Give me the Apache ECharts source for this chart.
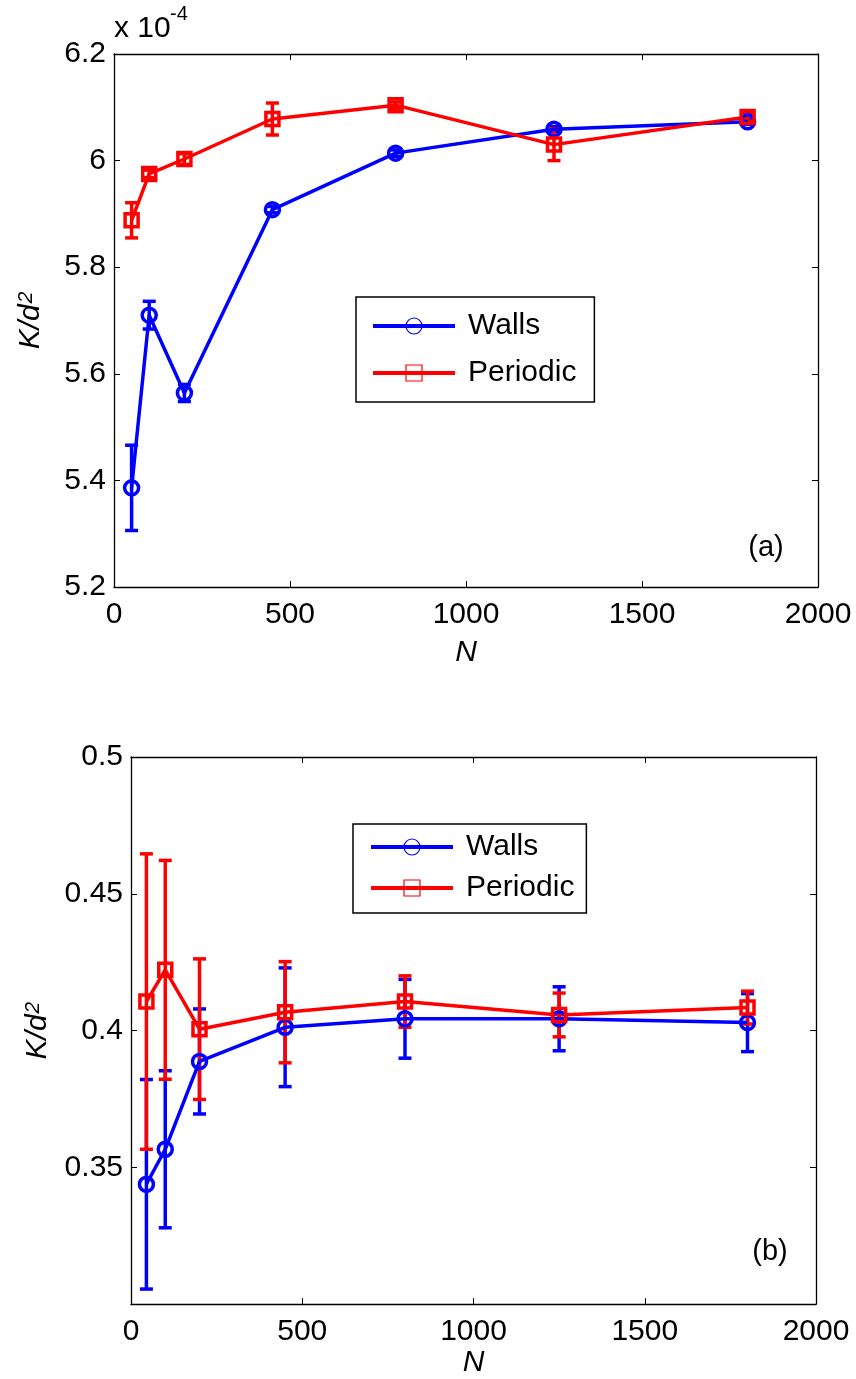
<!DOCTYPE html>
<html>
<head>
<meta charset="utf-8">
<script src="https://cdn.jsdelivr.net/npm/echarts@6/dist/echarts.min.js"></script>
<style>
html,body{margin:0;padding:0;background:#fff;}
#chart{width:856px;height:1379px;}
</style>
</head>
<body>
<div id="chart"></div>
<script>
// ---------- Data ----------
// Panel (a): values in units of 1e-4
const N_a = [50, 100, 200, 450, 800, 1250, 1800];
const walls_a = [5.386, 5.710, 5.564, 5.908, 6.014, 6.059, 6.073];
const walls_a_err = [0.080, 0.026, 0.016, 0.006, 0.006, 0.005, 0.005];
const periodic_a = [5.888, 5.975, 6.003, 6.078, 6.104, 6.030, 6.082];
const periodic_a_err = [0.033, 0.007, 0.010, 0.030, 0.006, 0.030, 0.008];

// Panel (b)
const N_b = [45, 100, 200, 450, 800, 1250, 1800];
const walls_b = [0.3438, 0.3566, 0.3887, 0.4012, 0.4043, 0.4043, 0.4029];
const walls_b_err = [0.0383, 0.0287, 0.0192, 0.0217, 0.0144, 0.0117, 0.0106];
const periodic_b = [0.4106, 0.4222, 0.4005, 0.4067, 0.4106, 0.4057, 0.4084];
const periodic_b_err = [0.054, 0.040, 0.0257, 0.0185, 0.0094, 0.008, 0.006];

const seriesNames = ['Walls', 'Periodic'];
const xTicks = [0, 500, 1000, 1500, 2000];

// ---------- Styling ----------
const FONT = "'Liberation Sans', Arial, Helvetica, sans-serif";
const BLUE = '#0000ff';
const RED = '#ff0000';
const LW = 3.5;

function fmt(v) { return String(parseFloat(v.toFixed(2))); }

function xAxisPair(gridIndex, nameGap) {
  const common = {
    type: 'value', gridIndex: gridIndex, min: xTicks[0], max: xTicks[xTicks.length - 1], interval: 500,
    splitLine: { show: false },
    axisLine: { show: true, onZero: false, lineStyle: { color: '#000', width: 1.3 } },
    axisTick: { show: true, inside: true, length: 6, lineStyle: { color: '#000', width: 1 } }
  };
  return [
    Object.assign({}, common, {
      position: 'bottom',
      axisLabel: { show: true, margin: 13, color: '#000', fontSize: 30, fontFamily: FONT, formatter: v => String(v) },
      name: 'N', nameLocation: 'middle', nameGap: nameGap,
      nameTextStyle: { fontSize: 30, fontFamily: FONT, fontStyle: 'italic', color: '#000', verticalAlign: 'top' }
    }),
    Object.assign({}, common, { position: 'top', axisLabel: { show: false } })
  ];
}

function yAxisPair(gridIndex, min, max, interval, hideMin, nameGap) {
  const common = {
    type: 'value', gridIndex: gridIndex, min: min, max: max, interval: interval,
    splitLine: { show: false },
    axisLine: { show: true, onZero: false, lineStyle: { color: '#000', width: 1.3 } },
    axisTick: { show: true, inside: true, length: 6, lineStyle: { color: '#000', width: 1 } }
  };
  return [
    Object.assign({}, common, {
      position: 'left',
      axisLabel: {
        show: true, margin: 8, color: '#000', fontSize: 30, fontFamily: FONT,
        formatter: v => (hideMin && Math.abs(v - min) < 1e-9) ? '' : fmt(v)
      },
      name: '{i|K/d}{s|2}', nameLocation: 'middle', nameGap: nameGap, nameRotate: 90,
      nameTextStyle: {
        color: '#000',
        rich: {
          i: { fontSize: 30, fontFamily: FONT, fontStyle: 'italic', color: '#000' },
          s: { fontSize: 21, fontFamily: FONT, fontStyle: 'italic', color: '#000', verticalAlign: 'top', padding: [0, 0, 6, 1] }
        }
      }
    }),
    Object.assign({}, common, { position: 'right', axisLabel: { show: false } })
  ];
}

function errSeries(name, xi, yi, xs, ys, errs, color) {
  return {
    name: name + ' error', type: 'custom', xAxisIndex: xi, yAxisIndex: yi,
    data: xs.map((x, i) => [x, ys[i] - errs[i], ys[i] + errs[i]]),
    encode: { x: 0, y: [1, 2] },
    silent: true,
    renderItem: function (params, api) {
      const x = api.value(0);
      const lo = api.coord([x, api.value(1)]);
      const hi = api.coord([x, api.value(2)]);
      const w = 6.5;
      const st = { stroke: color, lineWidth: LW };
      return {
        type: 'group',
        children: [
          { type: 'line', shape: { x1: lo[0], y1: lo[1], x2: hi[0], y2: hi[1] }, style: st },
          { type: 'line', shape: { x1: lo[0] - w, y1: lo[1], x2: lo[0] + w, y2: lo[1] }, style: st },
          { type: 'line', shape: { x1: hi[0] - w, y1: hi[1], x2: hi[0] + w, y2: hi[1] }, style: st }
        ]
      };
    }
  };
}

function lineSeries(name, xi, yi, xs, ys, color, symbol, size) {
  return {
    name: name, type: 'line', xAxisIndex: xi, yAxisIndex: yi,
    data: xs.map((x, i) => [x, ys[i]]),
    symbol: symbol, symbolSize: size, showAllSymbol: true,
    lineStyle: { color: color, width: LW },
    itemStyle: { color: 'rgba(0,0,0,0)', borderColor: color, borderWidth: LW },
    emphasis: { disabled: true }
  };
}

function legendCfg(left, top, padding, gap) {
  return {
    data: seriesNames.map(n => ({ name: n })),
    orient: 'vertical', left: left, top: top,
    backgroundColor: '#fff', borderColor: '#000', borderWidth: 1.5,
    padding: padding, itemWidth: 82, itemHeight: 20, itemGap: gap,
    textStyle: { fontSize: 30, fontFamily: FONT, color: '#000', padding: [0, 0, 0, 8] },
    itemStyle: { borderWidth: 1.2 },
    lineStyle: { width: 4 },
    selectedMode: false
  };
}

const chart = echarts.init(document.getElementById('chart'), null, { renderer: 'canvas' });

const option = {
  backgroundColor: '#fff',
  animation: false,
  grid: [
    { left: 114, top: 54, width: 704, height: 533 },
    { left: 131, top: 757, width: 685, height: 548 }
  ],
  xAxis: [].concat(xAxisPair(0, 51), xAxisPair(1, 38)),
  yAxis: [].concat(yAxisPair(0, 5.2, 6.2, 0.2, false, 68), yAxisPair(1, 0.3, 0.5, 0.05, true, 78)),
  legend: [
    legendCfg(356, 297, [14, 18, 14, 15], 17),
    legendCfg(353, 824, [8, 12, 10, 16], 11)
  ],
  graphic: [
    { type: 'text', left: 114, top: 14, style: { text: 'x 10', font: '30px ' + FONT, fill: '#000' } },
    { type: 'text', left: 170, top: 4, style: { text: '-4', font: '20px ' + FONT, fill: '#000' } },
    { type: 'text', x: 766, y: 548, style: { text: '(a)', font: '29px ' + FONT, fill: '#000', align: 'center', verticalAlign: 'middle' } },
    { type: 'text', x: 770, y: 1252, style: { text: '(b)', font: '29px ' + FONT, fill: '#000', align: 'center', verticalAlign: 'middle' } }
  ],
  series: [
    errSeries('Walls', 0, 0, N_a, walls_a, walls_a_err, BLUE),
    lineSeries('Walls', 0, 0, N_a, walls_a, BLUE, 'circle', 14),
    errSeries('Periodic', 0, 0, N_a, periodic_a, periodic_a_err, RED),
    lineSeries('Periodic', 0, 0, N_a, periodic_a, RED, 'rect', 13),
    errSeries('Walls', 2, 2, N_b, walls_b, walls_b_err, BLUE),
    lineSeries('Walls', 2, 2, N_b, walls_b, BLUE, 'circle', 14),
    errSeries('Periodic', 2, 2, N_b, periodic_b, periodic_b_err, RED),
    lineSeries('Periodic', 2, 2, N_b, periodic_b, RED, 'rect', 13)
  ]
};
chart.setOption(option);
</script>
</body>
</html>
